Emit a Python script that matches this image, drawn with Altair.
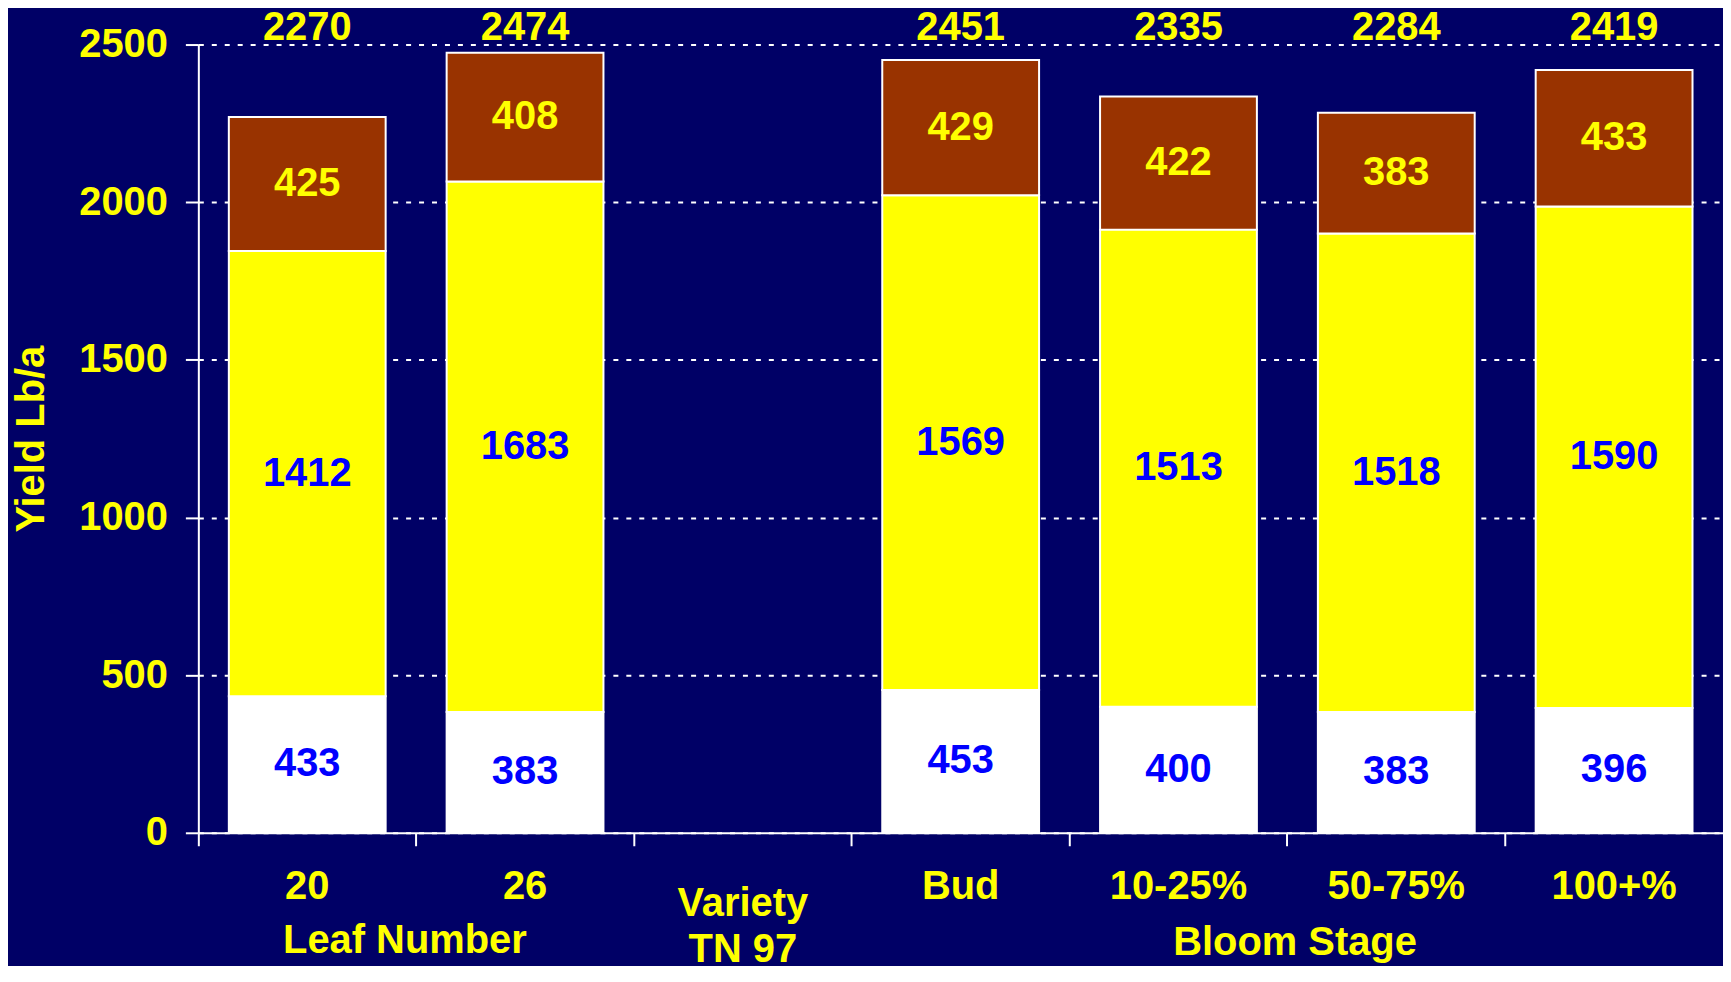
import altair as alt
import pandas as pd

categories = ["20", "26", "Variety TN 97", "Bud", "10-25%", "50-75%", "100+%"]
bar_categories = ["20", "26", "Bud", "10-25%", "50-75%", "100+%"]
bottom_vals = [433, 383, 453, 400, 383, 396]
middle_vals = [1412, 1683, 1569, 1513, 1518, 1590]
top_vals = [425, 408, 429, 422, 383, 433]
totals = [2270, 2474, 2451, 2335, 2284, 2419]
segments = ["Bottom", "Middle", "Top"]
seg_colors = ["#FFFFFF", "#FFFF00", "#993300"]
y_ticks = [0, 500, 1000, 1500, 2000, 2500]
group_labels = ["Leaf Number", "Bloom Stage"]
group_anchor = ["20", "10-25%"]
variety_lines = ["Variety", "TN 97"]

FONT = "Liberation Sans"
BG = "#000066"
YEL = "#FFFF00"
BLUE = "#0000FF"

rows = []
for i, c in enumerate(bar_categories):
    start = 0
    for k, (seg, vals) in enumerate(zip(segments, [bottom_vals, middle_vals, top_vals])):
        v = vals[i]
        rows.append({"cat": c, "segment": seg, "order": k, "value": v,
                     "start": start, "end": start + v, "mid": start + v / 2})
        start += v
seg_df = pd.DataFrame(rows)
tot_df = pd.DataFrame({"cat": bar_categories, "total": totals})

xscale = alt.Scale(domain=categories, paddingInner=0.28, paddingOuter=0.14)
yscale = alt.Scale(domain=[0, 2500], nice=False)

x_enc = alt.X("cat:N", scale=xscale, sort=categories,
              axis=alt.Axis(title=None, labelAngle=0, bandPosition=-0.14 / 0.72,
                            domainColor="white", domainWidth=2,
                            tickColor="white", tickWidth=2, tickSize=13,
                            labelColor=YEL, labelFont=FONT, labelFontSize=40,
                            labelFontWeight="bold", labelPadding=21,
                            labelExpr="datum.value == 'Variety TN 97' ? '' : datum.value"))

bars = alt.Chart(seg_df).mark_bar(stroke="white", strokeWidth=2).encode(
    x=x_enc,
    y=alt.Y("start:Q", scale=yscale,
            axis=alt.Axis(values=y_ticks, format="d", title="Yield Lb/a", titleColor=YEL,
                          titleFont=FONT, titleFontSize=40, titleFontWeight="bold",
                          titlePadding=27,
                          domainColor="white", domainWidth=2,
                          tickColor="white", tickWidth=2, tickSize=13,
                          labelColor=YEL, labelFont=FONT, labelFontSize=40,
                          labelFontWeight="bold", labelPadding=18,
                          grid=True, gridColor="white", gridDash=[5, 8], gridWidth=2)),
    y2="end:Q",
    color=alt.Color("segment:N", scale=alt.Scale(domain=segments, range=seg_colors), legend=None),
    order="order:Q",
)

txt_kw = dict(font=FONT, fontSize=40, fontWeight="bold", baseline="middle", align="center")

seg_blue = alt.Chart(seg_df).transform_filter("datum.segment != 'Top'").mark_text(
    color=BLUE, **txt_kw).encode(
    x=alt.X("cat:N", scale=xscale, sort=categories),
    y=alt.Y("mid:Q", scale=yscale),
    text="value:Q",
)
seg_yel = alt.Chart(seg_df).transform_filter("datum.segment == 'Top'").mark_text(
    color=YEL, **txt_kw).encode(
    x=alt.X("cat:N", scale=xscale, sort=categories),
    y=alt.Y("mid:Q", scale=yscale),
    text="value:Q",
)
tot_text = alt.Chart(tot_df).mark_text(color=YEL, **txt_kw).encode(
    x=alt.X("cat:N", scale=xscale, sort=categories),
    y=alt.value(-17),
    text="total:Q",
)

var_df = pd.DataFrame({"cat": ["Variety TN 97"] * 2, "line": variety_lines, "row": [0, 1]})
var_text = alt.Chart(var_df).mark_text(color=YEL, **txt_kw).encode(
    x=alt.X("cat:N", scale=xscale, sort=categories),
    y=alt.Y("row:Q", scale=alt.Scale(domain=[0, 1], range=[863, 909]), axis=None),
    text="line:N",
)

grp_df = pd.DataFrame({"cat": group_anchor, "label": group_labels})
leaf_text = alt.Chart(grp_df).transform_filter("datum.label == 'Leaf Number'").mark_text(
    color=YEL, dx=98, **txt_kw).encode(
    x=alt.X("cat:N", scale=xscale, sort=categories),
    y=alt.value(900),
    text="label:N",
)
bloom_text = alt.Chart(grp_df).transform_filter("datum.label == 'Bloom Stage'").mark_text(
    color=YEL, dx=117, **txt_kw).encode(
    x=alt.X("cat:N", scale=xscale, sort=categories),
    y=alt.value(902),
    text="label:N",
)

chart = alt.layer(bars, seg_blue, seg_yel, tot_text, var_text, leaf_text, bloom_text).resolve_scale(
    y="independent"
).properties(
    width=1530, height=791,
    autosize=alt.AutoSizeParams(type="none"),
    padding={"left": 191, "top": 35, "right": 0, "bottom": 132},
    background=BG,
).configure_view(stroke=None)

chart.save("out.html", embed_options={"renderer": "svg", "actions": False})
